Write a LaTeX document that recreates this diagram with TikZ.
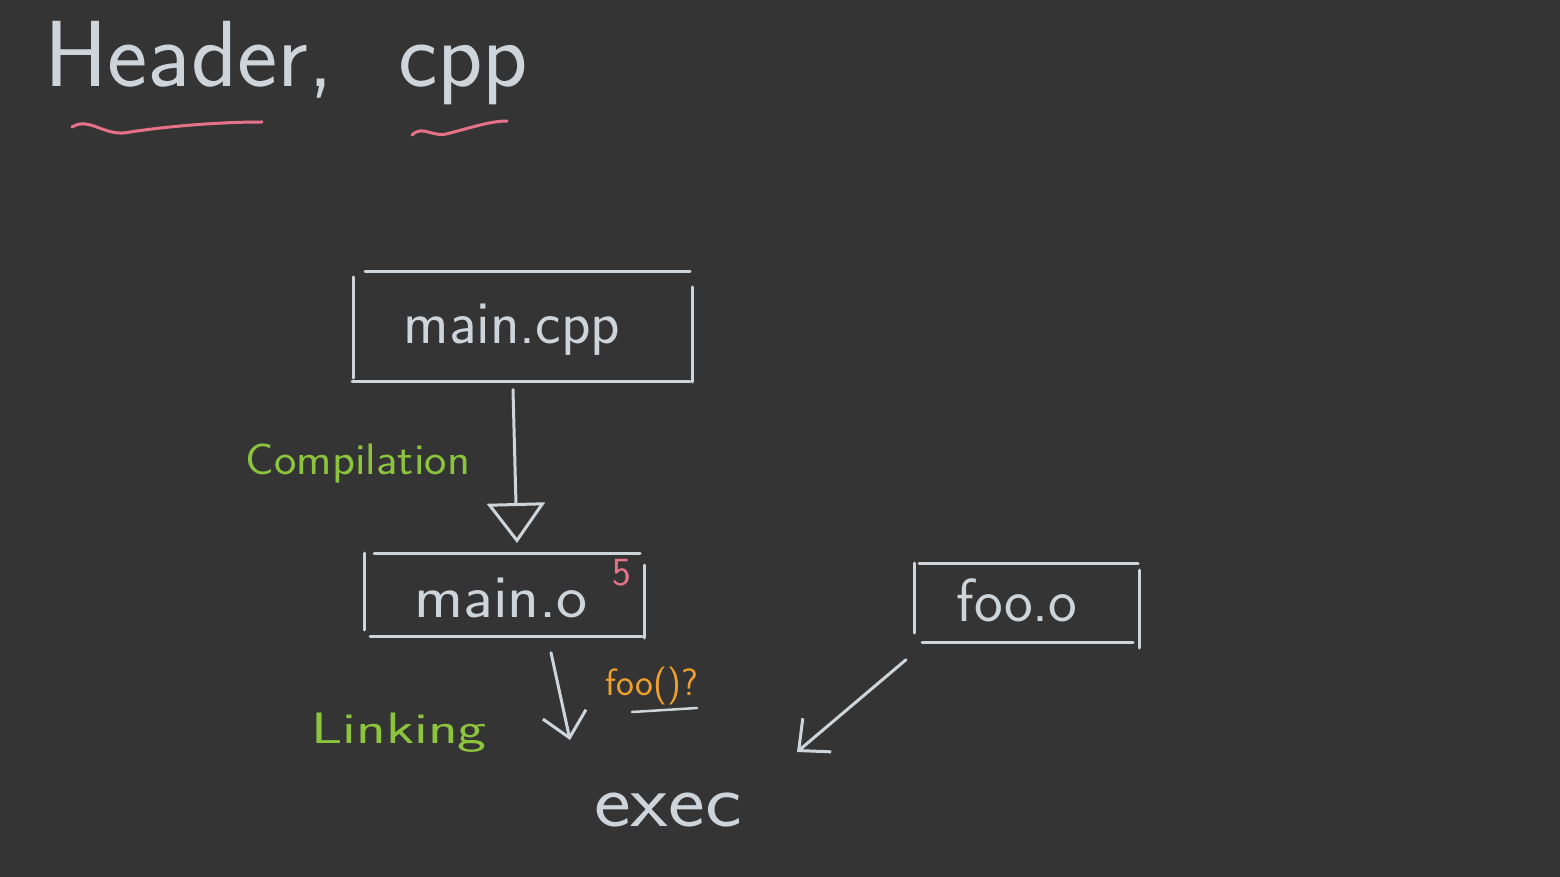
\documentclass[tikz,border=0pt]{standalone}
\usepackage{graphicx}
\usetikzlibrary{arrows.meta}
\definecolor{bg}{HTML}{343434}
\definecolor{chalk}{HTML}{CDD5DB}
\definecolor{pinkc}{HTML}{E8718A}
\definecolor{greenc}{HTML}{8CC43E}
\definecolor{orangec}{HTML}{F0A02C}
\tikzset{
  ink/.style={draw=chalk, line width=3pt, line cap=round, line join=round},
  boxtext/.style={text=chalk, font=\sffamily\fontsize{61}{66}\selectfont, inner sep=0pt},
  greentext/.style={text=greenc, font=\sffamily\fontsize{44}{50}\selectfont, inner sep=0pt},
  barb/.style={-{Straight Barb[length=24pt,width=44pt,line width=3pt]}},
  openhead/.style={-{Triangle[open,length=40pt,width=58pt,line width=3pt]}}
}
\begin{document}
\begin{tikzpicture}[x=1pt,y=-1pt]
\fill[bg] (0,0) rectangle (1560,877);
\useasboundingbox (0,0) rectangle (1560,877);

% title
\node[anchor=base west, text=chalk, inner sep=0pt, font=\sffamily\fontsize{94}{100}\selectfont] (title1) at (44,87) {\scalebox{1.02}[1]{Header,}};
\node[anchor=base west, text=chalk, inner sep=0pt, font=\sffamily\fontsize{94}{100}\selectfont] (title2) at (398,87) {cpp};
\draw[draw=pinkc, line width=3pt, line cap=round] (72,127) .. controls (90,116) and (105,138) .. (130,132) .. controls (170,126) and (220,122) .. (262,122);
\draw[draw=pinkc, line width=3pt, line cap=round] (412,135) .. controls (424,124) and (432,139) .. (450,133) .. controls (470,128) and (490,121) .. (507,121);

% main.cpp box
\node[boxtext, minimum width=339pt, minimum height=109pt] (mcpp) at (522,326) {};
\node[boxtext] (mcpptext) at (512,330) {main.cpp};
\draw[ink] (353,277) -- (353,378);
\draw[ink] (365,272) -- (690,272);
\draw[ink] (692,287) -- (692,382);
\draw[ink] (352,381) -- (690,381);

% main.o box
\node[boxtext, minimum width=280pt, minimum height=83pt] (mo) at (504,595) {};
\node[boxtext] (motext) at (501,598) {\scalebox{1.08}[1]{main.o}};
\node[text=pinkc, font=\sffamily\fontsize{40}{44}\selectfont, inner sep=0pt] (five) at (622,573) {5};
\draw[ink] (364,553) -- (364,630);
\draw[ink] (374,553) -- (640,553);
\draw[ink] (644,565) -- (644,638);
\draw[ink] (370,636) -- (642,636);

% foo.o box
\node[boxtext, minimum width=225pt, minimum height=79pt] (foo) at (1027,603) {};
\node[boxtext] (footext) at (1017,600) {foo.o};
\draw[ink] (914,563) -- (914,633);
\draw[ink] (919,563) -- (1138,563);
\draw[ink] (1139,570) -- (1139,648);
\draw[ink] (922,642) -- (1133,642);

% compilation arrow
\coordinate (compend) at (517,543);
\draw[ink, openhead] ([shift={(-9,9)}]mcpp.south) -- (compend);
\node[greentext] (comp) at (358,463) {\scalebox{1.08}[1]{Compilation}};

% exec
\node[text=chalk, font=\sffamily\fontsize{76}{84}\selectfont, inner sep=0pt] (exec) at (668,810) {\scalebox{1.15}[1]{exec}};

% linking arrows
\coordinate (linkend) at (570,740);
\draw[ink, barb] ([shift={(47,16)}]mo.south) -- (linkend);
\node[greentext] (link) at (399,733) {\scalebox{1.4}[1]{Linking}};
\node[text=orangec, font=\sffamily\fontsize{38}{42}\selectfont, inner sep=0pt] (fooq) at (652,686) {foo()?};
\draw[ink, line width=2.5pt] (632,712) -- (697,708);

\coordinate (fooend) at (797,752);
\draw[ink, barb] ([shift={(-121,17)}]foo.south) -- (fooend);
\end{tikzpicture}
\end{document}
